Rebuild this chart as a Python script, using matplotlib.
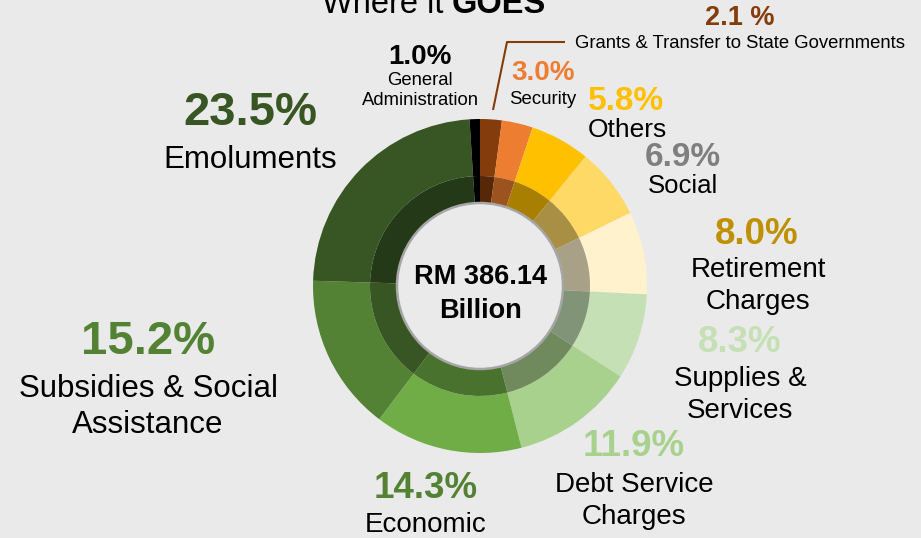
import matplotlib
matplotlib.use("Agg")
import matplotlib.pyplot as plt
from matplotlib.patches import Circle
import matplotlib.colors as mcolors

plt.rcParams['font.family'] = ['Liberation Sans', 'DejaVu Sans']

# Data (clockwise from 12 o'clock)
categories = ["Grants & Transfer to State Governments", "Security", "Others", "Social",
              "Retirement Charges", "Supplies & Services", "Debt Service Charges",
              "Economic", "Subsidies & Social Assistance", "Emoluments", "General Administration"]
values = [2.1, 3.0, 5.8, 6.9, 8.0, 8.3, 11.9, 14.3, 15.2, 23.5, 1.0]
colors = ["#843c0c", "#ed7d31", "#ffc000", "#ffd966", "#fff2cc", "#c5e0b4", "#a9d18e",
          "#70ad47", "#548235", "#375623", "#000000"]
pct_labels = ["2.1 %", "3.0%", "5.8%", "6.9%", "8.0%", "8.3%", "11.9%", "14.3%", "15.2%", "23.5%", "1.0%"]
name_labels = ["Grants & Transfer to State Governments", "Security", "Others", "Social",
               "Retirement\nCharges", "Supplies &\nServices", "Debt Service\nCharges",
               "Economic", "Subsidies & Social\nAssistance", "Emoluments", "General\nAdministration"]
pct_colors = ["#843c0c", "#ed7d31", "#ffc000", "#7f7f7f", "#bf9000", "#c5e0b4", "#a9d18e",
              "#548235", "#548235", "#375623", "#000000"]
total_text = "RM 386.14\nBillion"

W, H = 921, 538
BG = "#eaeaea"
fig = plt.figure(figsize=(W / 100, H / 100), dpi=100, facecolor=BG)
ax = fig.add_axes([0, 0, 1, 1])
ax.set_facecolor(BG)

def Y(y):
    return H - y

cx, cy = 480, Y(286)
R_out, R_mid, R_in = 167, 110, 83

ax.pie(values, colors=colors, startangle=90, counterclock=False, center=(cx, cy),
       radius=R_out, wedgeprops=dict(width=R_out - R_mid, linewidth=0), frame=True)

dark = [tuple(c * 0.66 for c in mcolors.to_rgb(col)) for col in colors]
ax.pie(values, colors=dark, startangle=90, counterclock=False, center=(cx, cy),
       radius=R_mid, wedgeprops=dict(width=R_mid - R_in, linewidth=0), frame=True)

ax.add_patch(Circle((cx, cy), R_in, facecolor=BG, edgecolor="#a6a6a6", linewidth=1.8, zorder=5))
ax.set_xlim(0, W)
ax.set_ylim(0, H)
ax.set_aspect('equal')
ax.axis('off')

ax.text(cx, Y(294), total_text, ha='center', va='center', fontsize=19.5, fontweight='bold',
        linespacing=1.35, zorder=6)

# Title (cut off at the top edge, as in the original)
ax.text(452, Y(13), "Where it ", ha='right', va='baseline', fontsize=23.5)
ax.text(452, Y(13), "GOES", ha='left', va='baseline', fontsize=23.5, fontweight='bold')

# label positions: (pct x, pct y, pct size, name x, name y, name size)
layout = [
    (740, 18, 19.5, 740, 43, 13.3),
    (543, 73, 20, 543, 99, 13.4),
    (626, 102, 24, 627, 130, 19),
    (683, 158, 24, 683, 186, 18.5),
    (757, 234, 26.5, 758, 286, 20),
    (740, 342, 26.5, 740, 394.5, 20),
    (634, 446, 26.5, 634, 501.5, 20),
    (426, 488, 26.5, 426, 525, 20),
    (148, 342, 34, 148, 407, 22.5),
    (250, 113, 34, 250, 160, 22.5),
    (420, 57, 20, 420, 90.5, 13.3),
]
for i, (px, py, ps, nx, ny, ns) in enumerate(layout):
    ax.text(px, Y(py), pct_labels[i], ha='center', va='center', fontsize=ps,
            fontweight='bold', color=pct_colors[i])
    ax.text(nx, Y(ny), name_labels[i], ha='center', va='center', fontsize=ns,
            color='black', linespacing=1.3)

# Leader line for grants
ax.plot([493, 507, 565], [Y(110), Y(42), Y(42)], color="#843c0c", lw=1.5, solid_capstyle='butt')

fig.savefig("out.png", dpi=100, facecolor=BG)
